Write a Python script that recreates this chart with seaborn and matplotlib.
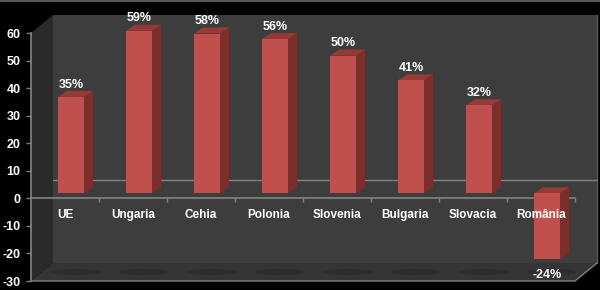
import matplotlib
matplotlib.use("Agg")
import matplotlib.pyplot as plt
import matplotlib.transforms as mtransforms
from matplotlib.patches import Polygon, Ellipse
import seaborn as sns
import pandas as pd

categories = ["UE", "Ungaria", "Cehia", "Polonia", "Slovenia", "Bulgaria", "Slovacia", "România"]
values = [35, 59, 58, 56, 50, 41, 32, -24]
value_labels = ["35%", "59%", "58%", "56%", "50%", "41%", "32%", "-24%"]
y_ticks = [-30, -20, -10, 0, 10, 20, 30, 40, 50, 60]

df = pd.DataFrame({"cat": categories, "val": values})

sns.set_theme(style="white")
plt.rcParams["font.family"] = ["Liberation Sans", "DejaVu Sans"]

W, H = 600, 290
fig = plt.figure(figsize=(6, 2.9), dpi=100, facecolor="black")
ax = fig.add_axes([31 / W, 9 / H, 544 / W, 248 / H])
ax.set_facecolor("none")
ax.set_xlim(-0.5, 7.5)
ax.set_ylim(-30, 60)

# pixel -> data scale
ux = 544 / 8.0
uy = 248 / 90.0
dx, dy = 22 / ux, 18 / uy  # wall depth

x0, x1 = -0.5, 7.5
y0, y1 = -30, 60
# left wall
ax.add_patch(Polygon([(x0, y1), (x0 + dx, y1 + dy), (x0 + dx, y0 + dy), (x0, y0)],
                     closed=True, facecolor="#2a2a2a", edgecolor="none", clip_on=False, zorder=0))
# back wall
ax.add_patch(Polygon([(x0 + dx, y1 + dy), (x1 + dx, y1 + dy), (x1 + dx, y0 + dy), (x0 + dx, y0 + dy)],
                     closed=True, facecolor="#3d3d3d", edgecolor="none", clip_on=False, zorder=0))
ax.plot([x1 + dx, x1 + dx], [y0 + dy, y1 + dy], color="#5a5a5a", lw=1, clip_on=False, zorder=0.5)
# floor
ax.add_patch(Polygon([(x0, y0), (x0 + dx, y0 + dy), (x1 + dx, y0 + dy), (x1, y0)],
                     closed=True, facecolor="#353535", edgecolor="none", clip_on=False, zorder=0.2))
ax.plot([x0, x1, x1 + dx], [y0, y0, y0 + dy], color="#808080", lw=1, clip_on=False, zorder=0.6)
# back gridline at zero
ax.plot([x0 + dx, x1 + dx], [dy, dy], color="#808080", lw=1, clip_on=False, zorder=0.5)

# floor shadows
for i in range(len(categories)):
    ax.add_patch(Ellipse((i + 10 / ux, y0 + 9 / uy), 50 / ux, 6 / uy,
                         facecolor="#2a2a2a", edgecolor="none", alpha=0.7, clip_on=False, zorder=0.3))

# bars
sns.barplot(data=df, x="cat", y="val", color="#c0504d", saturation=1, width=26 / ux,
            ax=ax, zorder=2, linewidth=0)
off = mtransforms.ScaledTranslation(6 / 100, 5 / 100, fig.dpi_scale_trans)
bar_tr = ax.transData + off
ddx, ddy = 9 / ux, 6 / uy
for p in list(ax.patches)[-len(categories):]:
    p.set_transform(bar_tr)
    p.set_clip_on(False)
    xl = p.get_x()
    xr = xl + p.get_width()
    ya, yb = p.get_y(), p.get_y() + p.get_height()
    lo, hi = min(ya, yb), max(ya, yb)
    side = Polygon([(xr, lo), (xr, hi), (xr + ddx, hi + ddy), (xr + ddx, lo + ddy)],
                   closed=True, facecolor="#7a2f2d", edgecolor="none", transform=bar_tr,
                   clip_on=False, zorder=1.9)
    top = Polygon([(xl, hi), (xr, hi), (xr + ddx, hi + ddy), (xl + ddx, hi + ddy)],
                  closed=True, facecolor="#953a37", edgecolor="none", transform=bar_tr,
                  clip_on=False, zorder=1.9)
    ax.add_patch(side)
    ax.add_patch(top)

# value labels
for i, (v, lab) in enumerate(zip(values, value_labels)):
    if v >= 0:
        ax.annotate(lab, (i, v), xytext=(4.5, 12.5), textcoords="offset points",
                    ha="center", va="center", color="white", fontsize=9, fontweight="bold",
                    annotation_clip=False, zorder=5)
    else:
        ax.annotate(lab, (i, v), xytext=(4.5, -7.5), textcoords="offset points",
                    ha="center", va="center", color="white", fontsize=9, fontweight="bold",
                    annotation_clip=False, zorder=5)

# axes styling
for s in ["top", "right"]:
    ax.spines[s].set_visible(False)
ax.spines["left"].set_color("#808080")
ax.spines["bottom"].set_color("#808080")
ax.spines["bottom"].set_position(("data", 0))
ax.spines["left"].set_zorder(1)
ax.spines["bottom"].set_zorder(1)
ax.set_yticks(y_ticks)
ax.set_yticklabels([str(t) for t in y_ticks])
ax.set_xticks(range(len(categories)))
ax.set_xticklabels(categories)
ax.set_xticks([i + 0.5 for i in range(len(categories))], minor=True)
ax.tick_params(axis="y", which="major", left=True, length=3.6, width=1, color="#808080",
               pad=4, labelcolor="white", labelsize=9)
ax.tick_params(axis="x", which="major", bottom=True, length=0, pad=8,
               labelcolor="white", labelsize=8.5)
ax.tick_params(axis="x", which="minor", bottom=True, length=3, width=1, color="#808080")
for lab in ax.get_yticklabels() + ax.get_xticklabels():
    lab.set_fontweight("bold")
ax.xaxis.set_zorder(6)
ax.yaxis.set_zorder(6)
ax.set_xlabel("")
ax.set_ylabel("")

# top border line
fig.add_artist(plt.Line2D([0, 1], [1 - 1 / H, 1 - 1 / H], transform=fig.transFigure,
                          color="#555555", lw=1.5))

fig.savefig("out.png", dpi=100, facecolor="black")
